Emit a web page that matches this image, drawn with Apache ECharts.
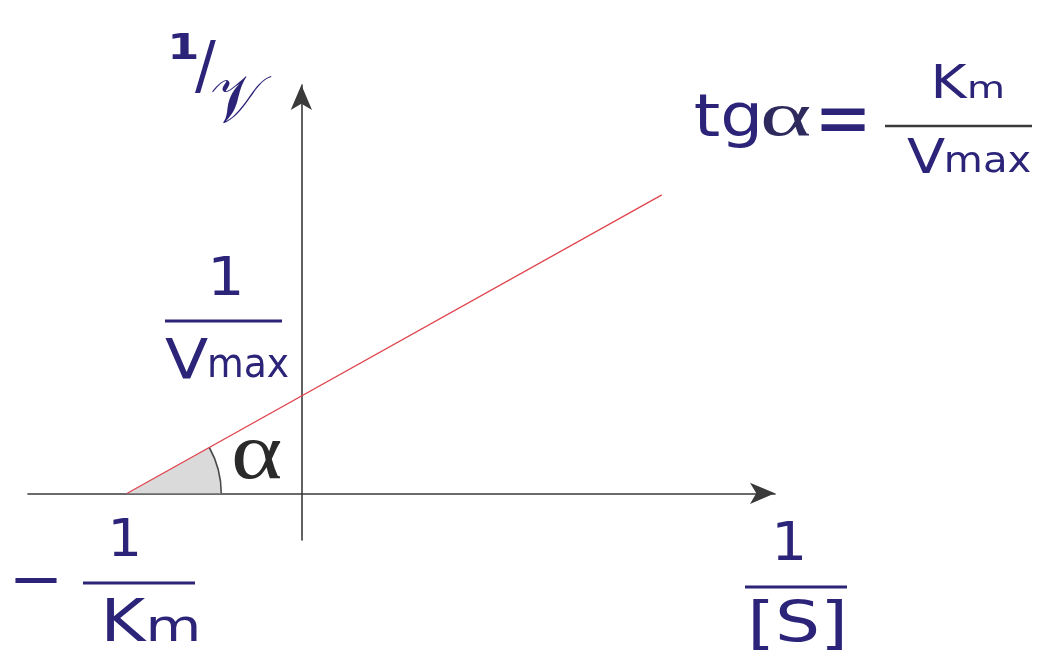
<!DOCTYPE html>
<html>
<head>
<meta charset="utf-8">
<title>Lineweaver–Burk plot</title>
<script src="https://cdn.jsdelivr.net/npm/echarts@6/dist/echarts.min.js"></script>
<style>
  html, body { margin: 0; padding: 0; background: #ffffff; }
  #chart { width: 1047px; height: 659px; }
</style>
</head>
<body>
<div id="chart"></div>
<script>
// Double-reciprocal (Lineweaver–Burk) plot: 1/v against 1/[S]
// Axis extents in reciprocal units (no tick labels are drawn)
const xExtent = [-1.57, 2.72];   // 1/[S]
const yExtent = [-0.48, 4.2];    // 1/v

// Straight line from the x-intercept (-1/Km) through 1/Vmax on the y-axis
const lineX = [-1, 2.07];
const lineY = [0, 3.07];

const NAVY = '#2b2479';
const SANS = "'DejaVu Sans', sans-serif";
const SERIF = "'Liberation Serif', 'DejaVu Serif', serif";

// Glyph metrics, measured once so each label's ink fits its box
const mctx = document.createElement('canvas').getContext('2d');
function inkMetrics(str, size, family, weight) {
  mctx.font = (weight || 'normal') + ' ' + size + 'px ' + family;
  mctx.textBaseline = 'middle';
  mctx.textAlign = 'left';
  return mctx.measureText(str);
}

// Text whose ink fills the box [left, right] x [top, bottom]
function inkText(str, left, right, top, bottom, opt) {
  opt = opt || {};
  const size = 50;
  const family = opt.family || SANS;
  const weight = opt.weight || 'normal';
  const m = inkMetrics(str, size, family, weight);
  const w = m.actualBoundingBoxLeft + m.actualBoundingBoxRight;
  const h = m.actualBoundingBoxAscent + m.actualBoundingBoxDescent;
  const sx = (right - left) / w;
  const sy = (bottom - top) / h;
  return {
    type: 'text',
    x: left + sx * m.actualBoundingBoxLeft,
    y: top + sy * m.actualBoundingBoxAscent,
    scaleX: sx,
    scaleY: sy,
    z: 100,
    style: {
      text: str,
      fontSize: size,
      fontFamily: family,
      fontWeight: weight,
      fill: opt.color || NAVY,
      align: 'left',
      textAlign: 'left',
      verticalAlign: 'middle',
      textVerticalAlign: 'middle'
    }
  };
}
function bar(x1, x2, y, color, w) {
  return {
    type: 'line', z: 100,
    shape: { x1: x1, y1: y, x2: x2, y2: y },
    style: { stroke: color || NAVY, lineWidth: w || 3 }
  };
}

const chart = echarts.init(document.getElementById('chart'), null, { renderer: 'canvas' });

const axisCommon = {
  type: 'value',
  axisTick: { show: false },
  axisLabel: { show: false },
  splitLine: { show: false },
  axisLine: {
    show: true,
    onZero: true,
    symbol: ['none', 'arrow'],
    symbolSize: [16, 25],
    lineStyle: { color: '#3a3a3a', width: 1.6 }
  }
};

chart.setOption({
  animation: false,
  backgroundColor: '#ffffff',
  grid: { left: 28, right: 272, top: 85, bottom: 119, containLabel: false },
  xAxis: Object.assign({}, axisCommon, { min: xExtent[0], max: xExtent[1] }),
  yAxis: Object.assign({}, axisCommon, { min: yExtent[0], max: yExtent[1] }),
  series: [
    {
      // shaded angle α between the line and the 1/[S] axis
      type: 'custom',
      z: 1,
      encode: { x: [0, 2], y: [1, 3] },
      data: [[lineX[0], lineY[0], lineX[1], lineY[1]]],
      renderItem: function (params, api) {
        const p0 = api.coord([api.value(0), api.value(1)]);
        const p1 = api.coord([api.value(2), api.value(3)]);
        const ang = Math.atan2(p1[1] - p0[1], p1[0] - p0[0]);
        const r = 94;
        return {
          type: 'group',
          children: [
            {
              type: 'sector',
              shape: { cx: p0[0], cy: p0[1], r0: 0, r: r, startAngle: ang, endAngle: 0, clockwise: true },
              style: { fill: '#dadada' }
            },
            {
              type: 'arc',
              shape: { cx: p0[0], cy: p0[1], r: r, startAngle: ang, endAngle: 0, clockwise: true },
              style: { stroke: '#4a4a4a', lineWidth: 1.6, fill: null }
            }
          ]
        };
      }
    },
    {
      type: 'line',
      z: 3,
      symbol: 'none',
      data: lineX.map((x, i) => [x, lineY[i]]),
      lineStyle: { color: '#e0424c', width: 1.2 }
    }
  ],
  graphic: [
    // 1/v axis title
    inkText('1', 172, 197, 33, 59, { weight: 'bold' }),
    inkText('/', 195, 216, 40, 93),
    inkText('𝒱', 211, 272, 75, 123, { family: SERIF }),

    // 1/Vmax at the y-intercept
    inkText('1', 213, 240, 257, 295),
    bar(165, 282, 321),
    inkText('V', 165, 208, 338, 378),
    inkText('max', 210, 288, 354, 378),

    // α
    inkText('α', 233, 282, 439, 478, { family: SERIF, color: '#2a2a2a' }),

    // −1/Km at the x-intercept
    inkText('−', 15, 57, 577, 583),
    inkText('1', 113, 138, 519, 556),
    bar(83, 195, 583),
    inkText('K', 106, 147, 599, 641),
    inkText('m', 150, 197, 616, 641),

    // 1/[S]
    inkText('1', 777, 803, 522, 560),
    bar(745, 847, 587),
    inkText('[S]', 753, 843, 598, 650),

    // tgα = Km/Vmax
    inkText('tg', 695, 758, 95, 148),
    inkText('α', 762, 811, 106, 135, { family: SERIF, color: '#2e2a5e' }),
    inkText('=', 821, 865, 107, 131),
    bar(885, 1032, 126, '#3a3a3a', 2.5),
    inkText('K', 935, 968, 65, 98),
    inkText('m', 970, 1002, 81, 98),
    inkText('V', 907, 945, 139, 173),
    inkText('max', 947, 1030, 152, 173)
  ]
});
</script>
</body>
</html>
